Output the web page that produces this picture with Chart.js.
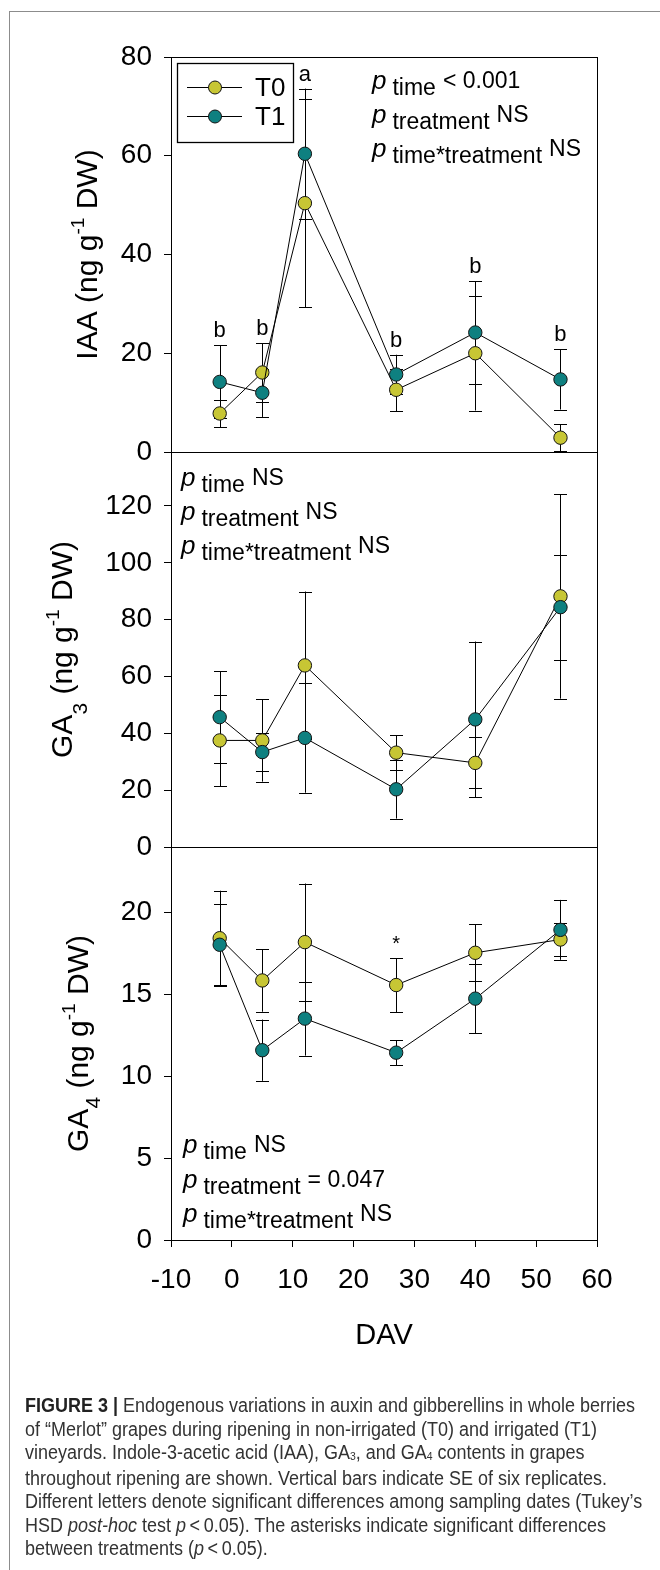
<!DOCTYPE html>
<html>
<head>
<meta charset="utf-8">
<script src="https://cdn.jsdelivr.net/npm/chart.js@4.4.1/dist/chart.umd.min.js"></script>
<style>
html,body{margin:0;padding:0;background:#fff;width:660px;height:1570px;overflow:hidden;position:relative;}
#frame{position:absolute;left:9px;top:11px;width:700px;height:1600px;border:1px solid #8c8c8c;box-sizing:border-box;}
canvas{position:absolute;left:0;top:0;}
#caption{position:absolute;left:25px;top:1394px;font-family:"Liberation Sans",Arial,sans-serif;font-size:20px;line-height:23.5px;color:#333;white-space:nowrap;}
#caption div{transform-origin:0 50%;}
#caption b{color:#222;}
#caption sub{font-size:58%;vertical-align:baseline;position:relative;top:0.12em;}
</style>
</head>
<body>
<div id="frame"></div>
<canvas id="c1" width="660" height="1400"></canvas>
<canvas id="c2" width="660" height="1400"></canvas>
<canvas id="c3" width="660" height="1400"></canvas>
<div id="caption">
<div><b>FIGURE 3</b> <b>|</b> Endogenous variations in auxin and gibberellins in whole berries</div>
<div>of “Merlot” grapes during ripening in non-irrigated (T0) and irrigated (T1)</div>
<div>vineyards. Indole-3-acetic acid (IAA), GA<sub>3</sub>, and GA<sub>4</sub> contents in grapes</div>
<div>throughout ripening are shown. Vertical bars indicate SE of six replicates.</div>
<div>Different letters denote significant differences among sampling dates (Tukey’s</div>
<div>HSD <i>post-hoc</i> test <i>p</i>&thinsp;&lt;&thinsp;0.05). The asterisks indicate significant differences</div>
<div>between treatments (<i>p</i>&thinsp;&lt;&thinsp;0.05).</div>
</div>
<script>
// ---------- data ----------
const days = [-2, 5, 12, 27, 40, 54];
const xTickValues = [-10, 0, 10, 20, 30, 40, 50, 60];

const iaaT0   = [7.8, 16.1, 50.4, 12.6, 20.0, 2.9];
const iaaT0se = [2.8, 5.9, 21.1, 4.3, 11.6, 2.7];
const iaaT1   = [14.2, 12.0, 60.4, 15.7, 24.2, 14.7];
const iaaT1se = [7.4, 4.9, 13.2, 4.0, 10.4, 6.1];
const iaaTicks = [0, 20, 40, 60, 80];
const iaaLetters = ['b', 'b', 'a', 'b', 'b', 'b'];
const iaaP = [['time', '< 0.001'], ['treatment', 'NS'], ['time*treatment', 'NS']];

const ga3T0   = [37.5, 37.5, 63.9, 33.2, 29.6, 88.2];
const ga3T0se = [16.1, 14.5, 26.0, 6.1, 9.0, 36.0];
const ga3T1   = [45.7, 33.4, 38.4, 20.3, 44.9, 84.4];
const ga3T1se = [16.2, 6.6, 19.3, 10.3, 27.4, 18.5];
const ga3Ticks = [0, 20, 40, 60, 80, 100, 120];
const ga3P = [['time', 'NS'], ['treatment', 'NS'], ['time*treatment', 'NS']];

const ga4T0   = [18.43, 15.85, 18.19, 15.57, 17.54, 18.35];
const ga4T0se = [2.90, 1.91, 3.58, 1.65, 1.73, 1.03];
const ga4T1   = [18.03, 11.59, 13.52, 11.44, 14.74, 18.94];
const ga4T1se = [2.46, 1.87, 2.26, 0.77, 2.10, 1.83];
const ga4Ticks = [0, 5, 10, 15, 20];
const ga4Marks = ['', '', '', '*', '', ''];
const ga4P = [['time', 'NS'], ['treatment', '= 0.047'], ['time*treatment', 'NS']];

const seriesNames = ['T0', 'T1'];

// ---------- style ----------
const FONT = '"Liberation Sans", Arial, Helvetica, sans-serif';
const YELLOW = '#c7c634';
const TEAL = '#0e8080';
const CANVAS_H = 1400;
const LEFT = 171, RIGHT_PAD = 63;

// condense caption lines (condensed face not installed)
(function () {
  const lines = document.querySelectorAll('#caption div');
  const w0 = lines[0].scrollWidth;
  const k = 617 / w0;
  lines.forEach(l => { l.style.transform = 'scaleX(' + k + ')'; });
})();

function richWidth(ctx, segs) {
  let w = 0;
  segs.forEach(s => { ctx.font = s.font; w += ctx.measureText(s.t).width + (s.gap || 0); });
  return w;
}
function drawRich(ctx, segs, x, y) {
  segs.forEach(s => {
    ctx.font = s.font;
    ctx.fillText(s.t, x, y + (s.dy || 0));
    x += ctx.measureText(s.t).width + (s.gap || 0);
  });
}

function makeDeco(cfg) {
  return {
    id: 'deco_' + cfg.id,
    beforeDatasetsDraw(chart) {
      const ctx = chart.ctx, ys = chart.scales.y;
      ctx.save();
      ctx.strokeStyle = '#000';
      ctx.lineWidth = 1;
      chart.data.datasets.forEach((ds, di) => {
        const meta = chart.getDatasetMeta(di);
        meta.data.forEach((pt, i) => {
          const v = ds.data[i].y, e = ds.se[i];
          const yT = ys.getPixelForValue(v + e), yB = ys.getPixelForValue(v - e);
          const x = Math.round(pt.x) + 0.5;
          ctx.beginPath();
          ctx.moveTo(x, yT); ctx.lineTo(x, yB);
          ctx.moveTo(x - 6.5, Math.round(yT) + 0.5); ctx.lineTo(x + 6.5, Math.round(yT) + 0.5);
          ctx.moveTo(x - 6.5, Math.round(yB) + 0.5); ctx.lineTo(x + 6.5, Math.round(yB) + 0.5);
          ctx.stroke();
        });
      });
      ctx.restore();
    },
    afterDatasetsDraw(chart) {
      const ctx = chart.ctx, ca = chart.chartArea, ys = chart.scales.y, xs = chart.scales.x;
      ctx.save();
      // frame
      ctx.strokeStyle = '#000'; ctx.lineWidth = 1;
      ctx.strokeRect(Math.round(ca.left) + 0.5, Math.round(ca.top) + 0.5,
                     Math.round(ca.right - ca.left), Math.round(ca.bottom - ca.top));
      ctx.fillStyle = '#000';
      // letters / asterisks above the highest error bar
      if (cfg.marks) {
        ctx.font = cfg.markFont + ' ' + FONT;
        ctx.textAlign = 'center'; ctx.textBaseline = 'alphabetic';
        cfg.marks.forEach((m, i) => {
          if (!m) return;
          let top = Infinity;
          chart.data.datasets.forEach(ds => {
            top = Math.min(top, ys.getPixelForValue(ds.data[i].y + ds.se[i]));
          });
          ctx.fillText(m, xs.getPixelForValue(days[i]), top - 8);
        });
      }
      // p-value annotations
      ctx.textAlign = 'left'; ctx.textBaseline = 'alphabetic';
      cfg.pLines.forEach((ln, k) => {
        const segs = [
          {t: 'p', font: 'italic 26px ' + FONT, gap: 6},
          {t: ln[0], font: '23px ' + FONT, dy: 6, gap: 7},
          {t: ln[1], font: '23px ' + FONT, dy: -1}
        ];
        drawRich(ctx, segs, cfg.pX, cfg.pBase[k]);
      });
      // legend
      if (cfg.legend) {
        const bx = ca.left + 6, by = ca.top + 6;
        ctx.strokeStyle = '#000'; ctx.lineWidth = 1.3;
        ctx.strokeRect(Math.round(bx) + 0.5, Math.round(by) + 0.5, 116, 79);
        chart.data.datasets.slice().sort((a, b) => a.legendIndex - b.legendIndex).forEach((ds, k) => {
          const yy = Math.round(ca.top + 30 + k * 29) + 0.5;
          ctx.beginPath(); ctx.lineWidth = 1;
          ctx.moveTo(ca.left + 16, yy); ctx.lineTo(ca.left + 71, yy); ctx.stroke();
          ctx.beginPath(); ctx.arc(ca.left + 44, yy, 6.5, 0, Math.PI * 2);
          ctx.fillStyle = ds.pointBackgroundColor; ctx.fill();
          ctx.strokeStyle = '#111'; ctx.stroke(); ctx.strokeStyle = '#000';
          ctx.fillStyle = '#000';
          ctx.font = '26px ' + FONT; ctx.textBaseline = 'middle';
          ctx.fillText(ds.label, ca.left + 84, yy + 1);
        });
        ctx.textBaseline = 'alphabetic';
      }
      // y-axis title (rotated, with sub/superscripts)
      const segs = cfg.title.map(s => {
        if (s[1] === 1) return {t: s[0], font: '19px ' + FONT, dy: -13};
        if (s[1] === 2) return {t: s[0], font: '21px ' + FONT, dy: cfg.subDy};
        return {t: s[0], font: '30px ' + FONT};
      });
      const w = richWidth(ctx, segs);
      ctx.save();
      ctx.translate(cfg.titleBase, (ca.top + ca.bottom) / 2);
      ctx.rotate(-Math.PI / 2);
      ctx.fillStyle = '#000';
      drawRich(ctx, segs, -w / 2, 0);
      ctx.restore();
      ctx.restore();
    }
  };
}

function makePanel(cfg) {
  const mk = (label, vals, se, color, order, li) => ({
    label, se, legendIndex: li, order,
    data: days.map((d, i) => ({x: d, y: vals[i]})),
    borderColor: '#000', borderWidth: 1,
    backgroundColor: color, pointBackgroundColor: color,
    pointBorderColor: '#111', pointBorderWidth: 1, pointRadius: 6.7,
    pointHoverRadius: 6.7, tension: 0, fill: false, clip: false
  });
  const xScale = {
    type: 'linear', min: -10, max: 60, display: !!cfg.showX,
    afterBuildTicks: s => { s.ticks = xTickValues.map(v => ({value: v})); },
    grid: {drawOnChartArea: false, drawTicks: true, tickLength: 7, color: '#000', lineWidth: 1},
    border: {display: true, color: '#000', width: 1},
    ticks: {font: {family: FONT, size: 28}, color: '#000', padding: 16, maxRotation: 0, autoSkip: false},
    title: {display: !!cfg.showX, text: 'DAV', font: {family: FONT, size: 29}, color: '#000', padding: 0},
    afterFit: s => { if (cfg.showX) s.height = 113; }
  };
  const yScale = {
    type: 'linear', min: 0, max: cfg.yMax, position: 'left',
    afterBuildTicks: s => { s.ticks = cfg.yTicks.map(v => ({value: v})); },
    grid: {drawOnChartArea: false, drawTicks: true, tickLength: 7, color: '#000', lineWidth: 1},
    border: {display: true, color: '#000', width: 1},
    ticks: {font: {family: FONT, size: 28}, color: '#000', padding: 12, autoSkip: false},
    afterFit: s => { s.width = LEFT; }
  };
  return new Chart(document.getElementById(cfg.id), {
    type: 'line',
    data: {datasets: [
      mk(seriesNames[1], cfg.t1, cfg.t1se, TEAL, 0, 1),
      mk(seriesNames[0], cfg.t0, cfg.t0se, YELLOW, 1, 0)
    ]},
    options: {
      responsive: false, animation: false, devicePixelRatio: 1, events: [],
      layout: {padding: {top: cfg.top, left: 0, right: RIGHT_PAD,
        bottom: CANVAS_H - cfg.bottom - (cfg.showX ? 113 : 0)}},
      scales: {x: xScale, y: yScale},
      plugins: {legend: {display: false}, tooltip: {enabled: false}, title: {display: false}}
    },
    plugins: [makeDeco(cfg)]
  });
}

makePanel({id: 'c1', top: 57, bottom: 452, yMax: 80, yTicks: iaaTicks,
  t0: iaaT0, t0se: iaaT0se, t1: iaaT1, t1se: iaaT1se,
  title: [['IAA (ng g', 0], ['-1', 1], [' DW)', 0]], titleBase: 97, subDy: 14,
  pLines: iaaP, pX: 372, pBase: [89, 123, 157], legend: true,
  marks: iaaLetters, markFont: '22px'});

makePanel({id: 'c2', top: 452, bottom: 847, yMax: 139, yTicks: ga3Ticks,
  t0: ga3T0, t0se: ga3T0se, t1: ga3T1, t1se: ga3T1se,
  title: [['GA', 0], ['3', 2], [' (ng g', 0], ['-1', 1], [' DW)', 0]], titleBase: 72, subDy: 15,
  pLines: ga3P, pX: 181, pBase: [486, 520, 554]});

makePanel({id: 'c3', top: 847, bottom: 1240, yMax: 24, yTicks: ga4Ticks, showX: true,
  t0: ga4T0, t0se: ga4T0se, t1: ga4T1, t1se: ga4T1se,
  title: [['GA', 0], ['4', 2], [' (ng g', 0], ['-1', 1], [' DW)', 0]], titleBase: 88, subDy: 12,
  pLines: ga4P, pX: 183, pBase: [1153, 1188, 1222],
  marks: ga4Marks, markFont: '20px'});
</script>
</body>
</html>
